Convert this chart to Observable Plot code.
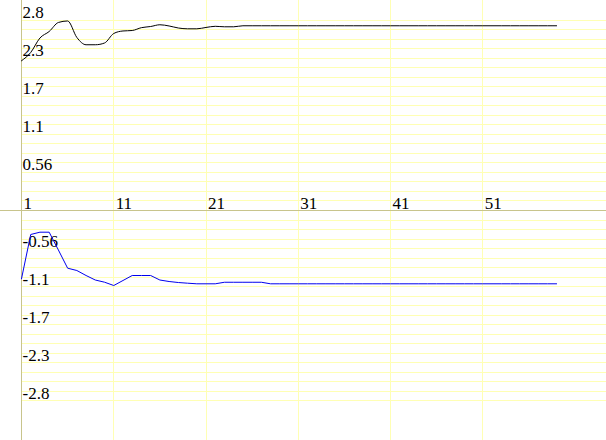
<!DOCTYPE html>
<html>
<head>
<meta charset="utf-8">
<script src="https://cdn.jsdelivr.net/npm/d3@7"></script>
<script src="https://cdn.jsdelivr.net/npm/@observablehq/plot@0.6"></script>
<style>
  html, body { margin: 0; padding: 0; background: #fff; }
  #chart svg { display: block; }
</style>
</head>
<body>
<div id="chart"></div>
<script>
// Data
const xs = d3.range(1, 60); // 59 samples, x = 1..59
const upperSeries = [
  2.216, 2.339, 2.553, 2.649, 2.783, 2.805, 2.561, 2.453, 2.453, 2.479,
  2.620, 2.657, 2.664, 2.706, 2.723, 2.749, 2.731, 2.701, 2.689, 2.689,
  2.709, 2.726, 2.719, 2.719, 2.734, 2.734, 2.734, 2.734, 2.734, 2.734,
  2.734, 2.734, 2.734, 2.734, 2.734, 2.734, 2.734, 2.734, 2.734, 2.734,
  2.734, 2.734, 2.734, 2.734, 2.734, 2.734, 2.734, 2.734, 2.734, 2.734,
  2.734, 2.734, 2.734, 2.734, 2.734, 2.734, 2.734, 2.734, 2.734
];
const lowerSeries = [
  -1.011, -0.355, -0.321, -0.321, -0.585, -0.854, -0.888, -0.962, -1.029, -1.061,
  -1.110, -1.036, -0.962, -0.962, -0.962, -1.029, -1.051, -1.066, -1.076, -1.085,
  -1.085, -1.085, -1.062, -1.062, -1.062, -1.062, -1.062, -1.085, -1.085, -1.085,
  -1.085, -1.085, -1.085, -1.085, -1.085, -1.085, -1.085, -1.085, -1.085, -1.085,
  -1.085, -1.085, -1.085, -1.085, -1.085, -1.085, -1.085, -1.085, -1.085, -1.085,
  -1.085, -1.085, -1.085, -1.085, -1.085, -1.085, -1.085, -1.085, -1.085
];
const xTickValues = [1, 11, 21, 31, 41, 51];
const xTickLabels = ["1", "11", "21", "31", "41", "51"];
const yTickValues = [2.8125, 2.25, 1.6875, 1.125, 0.5625, -0.5625, -1.125, -1.6875, -2.25, -2.8125];
const yTickLabels = ["2.8", "2.3", "1.7", "1.1", "0.56", "-0.56", "-1.1", "-1.7", "-2.3", "-2.8"];
const gridStep = 0.140625;

const xDomain = [-1.276, 64.41];
const yDomain = [-3.404, 3.108];
const gridColor = "#ffffb4";
const axisColor = "#c8c48c";
const font = "'Liberation Serif', 'DejaVu Serif', serif";

const hGrid = d3.range(-20, 21).filter(k => k !== 0).map(k => k * gridStep);
const upper = xs.map((x, i) => ({x, y: upperSeries[i]}));
const lower = xs.map((x, i) => ({x, y: lowerSeries[i]}));
const xTicks = xTickValues.map((v, i) => ({v, label: xTickLabels[i]}));
const yTicks = yTickValues.map((v, i) => ({v, label: yTickLabels[i]}));

const chart = Plot.plot({
  width: 606,
  height: 440,
  margin: 0,
  style: {background: "#fff"},
  x: {domain: xDomain, axis: null},
  y: {domain: yDomain, axis: null},
  marks: [
    Plot.ruleY(hGrid, {x1: 1, x2: xDomain[1], stroke: gridColor, strokeWidth: 1, shapeRendering: "crispEdges"}),
    Plot.ruleX(xTickValues.filter(v => v !== 1), {stroke: gridColor, strokeWidth: 1, shapeRendering: "crispEdges"}),
    Plot.ruleY([0], {stroke: axisColor, strokeWidth: 1, shapeRendering: "crispEdges"}),
    Plot.ruleX([1], {stroke: axisColor, strokeWidth: 1, shapeRendering: "crispEdges"}),
    Plot.text(xTicks, {x: "v", y: 0, text: "label", textAnchor: "start", lineAnchor: "bottom", dx: 2, dy: -2, fontSize: 17, fontFamily: font, fill: "#000"}),
    Plot.text(yTicks, {x: 1, y: "v", text: "label", textAnchor: "start", lineAnchor: "bottom", dx: 1, dy: -2, fontSize: 17, fontFamily: font, fill: "#000"}),
    Plot.line(upper, {x: "x", y: "y", stroke: "#000", strokeWidth: 1, curve: "monotone-x"}),
    Plot.line(lower, {x: "x", y: "y", stroke: "#0000ee", strokeWidth: 1})
  ]
});
document.getElementById("chart").appendChild(chart);
</script>
</body>
</html>
